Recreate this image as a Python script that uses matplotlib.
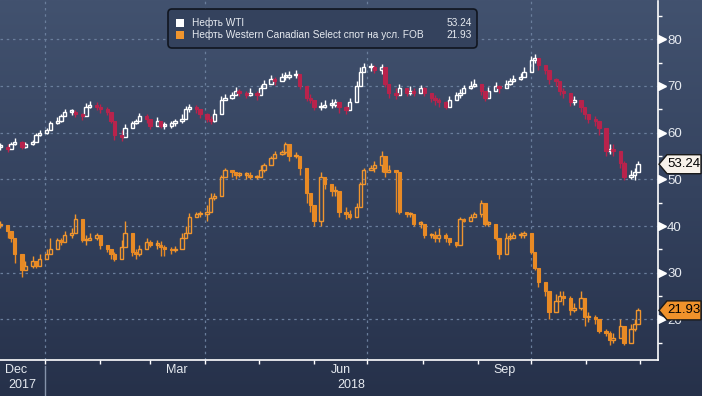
import numpy as np
import pandas as pd
import matplotlib
matplotlib.use('Agg')
import matplotlib.pyplot as plt
import matplotlib.dates as mdates
import matplotlib.transforms as mtransforms
from matplotlib.colors import LinearSegmentedColormap
from matplotlib.patches import FancyBboxPatch, Polygon, Rectangle
from matplotlib.ticker import FixedLocator, NullFormatter, FixedFormatter

plt.rcParams['font.family'] = ['Liberation Sans', 'DejaVu Sans']

# ---------------- data ----------------
start_date = '2017-12-07'
step = '2B'   # one candle every two business days

wti_close = [
    57.0, 56.5, 57.5, 58.0, 57.0, 57.5, 58.0, 59.5, 60.0, 60.5,
    62.0, 62.5, 63.5, 64.5, 64.5, 64.0, 63.5, 65.5, 66.0, 65.5,
    65.0, 64.5, 62.5, 59.5, 59.0, 61.0, 62.0, 62.5, 63.5, 63.0,
    61.5, 62.5, 61.5, 61.5, 62.0, 62.5, 63.0, 65.0, 65.5, 65.0,
    64.0, 63.0, 62.5, 64.0, 67.0, 67.5, 68.0, 69.0, 68.5, 68.0,
    68.5, 68.0, 69.5, 70.5, 71.5, 71.0, 72.0, 72.0, 72.3, 72.5,
    70.0, 67.5, 67.0, 65.5, 65.5, 66.0, 66.0, 66.5, 65.5, 64.8,
    66.5, 70.0, 73.0, 74.0, 74.0, 73.5, 74.0, 70.5, 68.5, 68.0,
    69.5, 68.5, 69.0, 68.5, 69.5, 68.5, 67.5, 67.0, 66.5, 65.5,
    67.0, 68.0, 68.5, 69.5, 70.0, 70.5, 69.0, 67.5, 69.0, 70.0,
    69.5, 70.5, 71.0, 71.5, 72.0, 73.0, 75.5, 76.0, 74.5, 73.5,
    71.5, 71.0, 69.0, 68.5, 66.5, 67.0, 65.5, 64.0, 63.0, 62.5,
    61.0, 56.0, 56.5, 56.0, 53.5, 50.5, 51.0, 51.5, 53.24,
]
wti_high = [
    57.8, 57.5, 58.0, 58.8, 58.2, 58.0, 58.5, 60.0, 60.5, 61.0,
    62.5, 63.3, 64.0, 65.0, 65.0, 64.8, 64.3, 66.3, 66.8, 66.5,
    66.2, 65.5, 64.3, 61.5, 60.5, 61.8, 62.5, 63.0, 64.3, 64.0,
    62.8, 63.3, 62.5, 62.3, 62.5, 63.0, 64.0, 65.8, 66.2, 66.0,
    65.0, 64.2, 63.5, 65.0, 67.8, 68.3, 68.8, 69.8, 69.3, 69.0,
    69.5, 69.0, 70.3, 71.3, 72.3, 72.0, 72.8, 73.0, 73.3, 73.5,
    72.5, 69.5, 68.3, 66.8, 66.5, 67.0, 67.3, 67.3, 66.5, 65.8,
    67.5, 71.0, 74.0, 75.0, 75.0, 74.5, 74.8, 72.5, 69.5, 69.5,
    70.5, 69.5, 70.0, 69.5, 70.3, 69.8, 68.5, 68.0, 67.5, 66.8,
    67.8, 68.8, 69.3, 70.3, 71.0, 71.5, 70.3, 69.0, 69.8, 70.8,
    70.3, 71.3, 71.8, 72.3, 72.8, 74.0, 76.5, 76.8, 75.5, 74.5,
    72.5, 71.8, 70.0, 69.5, 68.0, 67.8, 66.8, 65.0, 64.0, 63.5,
    62.0, 59.5, 57.5, 57.5, 56.0, 54.0, 52.0, 52.5, 54.0,
]
wti_low = [
    56.2, 55.8, 56.8, 57.3, 56.5, 56.8, 57.3, 58.5, 59.2, 59.8,
    60.8, 61.8, 62.3, 63.5, 63.8, 63.3, 62.8, 64.5, 65.2, 64.8,
    64.3, 63.8, 62.0, 58.5, 58.3, 59.5, 61.0, 61.8, 62.8, 62.0,
    60.8, 61.5, 61.0, 60.8, 61.0, 61.5, 62.0, 63.8, 64.5, 64.3,
    63.2, 62.3, 61.8, 62.3, 65.5, 67.0, 67.3, 68.0, 67.8, 67.5,
    67.8, 67.0, 68.5, 69.5, 70.5, 70.2, 71.3, 71.3, 71.5, 71.8,
    69.3, 66.8, 66.3, 64.8, 64.8, 65.3, 65.3, 65.5, 64.3, 64.0,
    65.5, 68.5, 71.5, 73.0, 73.2, 72.8, 72.5, 69.8, 67.5, 67.3,
    68.5, 67.8, 68.0, 67.8, 68.5, 67.8, 66.5, 66.0, 65.5, 65.0,
    66.0, 67.0, 67.5, 68.8, 69.3, 69.8, 68.0, 66.8, 68.0, 69.0,
    68.5, 69.8, 70.2, 70.8, 71.3, 72.0, 74.0, 75.0, 73.5, 72.5,
    70.5, 70.0, 68.0, 67.5, 65.8, 66.0, 64.5, 63.0, 62.0, 61.5,
    59.5, 55.0, 55.5, 55.0, 52.5, 49.8, 50.0, 49.8, 52.8,
]

wcs_close = [
    40.2, 39.0, 37.5, 34.0, 30.5, 31.5, 32.5, 31.5, 33.0, 34.0,
    35.0, 37.0, 36.5, 38.0, 38.5, 41.5, 37.0, 37.0, 37.5, 38.0,
    36.0, 35.0, 34.0, 33.0, 35.5, 38.5, 34.5, 34.0, 35.0, 36.5,
    36.0, 36.0, 35.5, 35.0, 34.8, 35.0, 37.5, 38.5, 42.0, 42.5,
    42.5, 43.0, 46.0, 46.5, 50.5, 52.0, 51.5, 51.0, 51.0, 51.0,
    50.5, 50.5, 52.0, 53.0, 54.5, 55.5, 55.8, 57.5, 55.0, 55.0,
    52.5, 47.0, 44.5, 41.0, 50.5, 49.0, 47.5, 47.5, 43.0, 42.5,
    42.0, 44.0, 49.0, 52.0, 52.5, 53.0, 55.0, 51.5, 52.0, 51.5,
    43.0, 42.5, 42.5, 40.5, 40.5, 38.0, 38.0, 37.5, 38.0, 37.5,
    36.5, 36.0, 41.5, 41.0, 42.0, 42.5, 45.0, 40.5, 40.5, 37.5,
    34.0, 37.5, 37.5, 38.0, 38.0, 38.5, 34.5, 31.0, 28.0, 26.0,
    21.5, 24.0, 25.0, 24.5, 22.0, 22.5, 24.5, 20.5, 20.5, 20.0,
    17.5, 17.0, 15.5, 16.0, 18.5, 15.0, 18.0, 19.0, 21.93,
]
wcs_high = [
    41.0, 40.0, 38.0, 36.5, 31.5, 32.5, 33.5, 32.5, 34.0, 35.0,
    37.5, 37.5, 37.5, 39.0, 39.5, 42.5, 40.0, 38.0, 38.5, 38.5,
    37.0, 36.0, 35.0, 34.5, 37.0, 41.0, 36.0, 35.0, 36.0, 37.5,
    37.0, 37.0, 36.8, 36.0, 35.5, 35.8, 38.5, 40.0, 42.8, 43.0,
    43.2, 44.5, 47.0, 47.0, 51.0, 52.5, 52.0, 51.5, 51.5, 51.5,
    51.5, 51.0, 53.0, 53.5, 55.0, 56.0, 56.3, 58.0, 55.5, 55.8,
    53.5, 49.0, 46.0, 44.0, 51.5, 50.5, 48.0, 48.5, 44.5, 44.0,
    43.5, 45.0, 49.5, 52.5, 53.0, 54.0, 56.0, 54.0, 53.0, 52.0,
    45.0, 43.0, 43.0, 41.5, 41.0, 38.5, 38.5, 39.0, 39.5, 38.5,
    37.5, 36.5, 42.0, 41.8, 42.5, 43.0, 45.5, 44.0, 41.0, 38.5,
    35.0, 38.5, 38.5, 38.8, 38.8, 39.0, 38.5, 34.5, 31.0, 28.0,
    26.0, 25.5, 26.0, 26.0, 25.0, 23.5, 26.0, 24.0, 21.5, 21.0,
    19.5, 18.0, 17.5, 17.0, 20.0, 16.0, 19.0, 20.0, 22.5,
]
wcs_low = [
    39.5, 37.5, 36.5, 32.0, 29.0, 30.5, 31.0, 31.0, 32.0, 33.0,
    34.5, 36.0, 36.0, 37.0, 37.5, 39.5, 36.5, 36.0, 37.0, 37.0,
    35.0, 34.5, 33.0, 32.5, 34.5, 36.0, 33.5, 33.0, 33.5, 35.5,
    35.5, 35.0, 33.5, 33.5, 34.0, 34.5, 36.0, 37.5, 41.5, 42.0,
    42.0, 41.0, 43.5, 45.5, 47.0, 51.0, 50.5, 50.0, 50.5, 50.0,
    50.0, 50.0, 50.5, 51.5, 53.5, 55.0, 55.3, 55.5, 54.0, 54.5,
    51.0, 45.0, 43.0, 40.0, 40.0, 48.0, 46.5, 46.5, 42.0, 41.5,
    41.5, 43.5, 44.5, 50.5, 52.0, 51.5, 51.5, 50.5, 51.5, 43.0,
    42.5, 42.0, 42.0, 40.0, 39.5, 37.5, 37.5, 36.5, 36.5, 36.5,
    36.0, 35.5, 41.0, 40.8, 41.5, 42.0, 42.0, 40.0, 40.0, 37.0,
    33.0, 36.5, 37.0, 37.5, 37.5, 37.5, 34.0, 30.5, 27.0, 25.0,
    20.0, 21.5, 24.0, 23.0, 21.0, 21.5, 22.0, 18.5, 19.5, 19.0,
    17.0, 16.5, 14.5, 15.0, 16.0, 14.5, 17.0, 17.5, 19.5,
]

series_names = ['Нефть WTI', 'Нефть Western Canadian Select спот на усл. FOB']
month_labels = ['Dec', 'Mar', 'Jun', 'Sep']
month_label_dates = ['2017-12-16', '2018-03-16', '2018-06-16', '2018-09-16']
year_labels = ['2017', '2018']
year_starts = ['2017-01-01', '2018-01-01']
grid_dates = ['2018-01-01', '2018-04-01', '2018-07-01', '2018-10-01']
y_major = [20, 30, 40, 50, 60, 70, 80]
y_minor = [15, 25, 35, 45, 55, 65, 75, 85]

# ---------------- styles ----------------
W, H, DPI = 7.02, 3.96, 100
WTI_UP = '#ffffff'
WTI_DOWN = '#b8234c'
WCS_UP = '#f0952e'
WCS_DOWN = '#e88a25'
GRID = '#6a7e9c'
TXT = '#e6eaf0'

fig = plt.figure(figsize=(W, H), dpi=DPI)

# background gradient
bg = fig.add_axes([0, 0, 1, 1], zorder=-10)
grad = np.linspace(0, 1, 256).reshape(-1, 1)
cmap = LinearSegmentedColormap.from_list('bg', ['#26314a', '#34425e', '#42526f'])
bg.imshow(grad, aspect='auto', cmap=cmap, origin='lower', extent=[0, 1, 0, 1])
bg.axis('off')

ax = fig.add_axes([0, 36 / 396, 658 / 702, 359 / 396])
ax.set_facecolor('none')

dates = pd.bdate_range(start_date, periods=len(wti_close), freq=step)
x = mdates.date2num(dates)

jan1 = mdates.date2num(pd.Timestamp('2018-01-01'))
px_per_day = 1.781
ax.set_xlim(jan1 - 45 / px_per_day, jan1 + 613 / px_per_day)
ax.set_ylim(11.3, 88.2)


def candles(xv, closes, highs, lows, up_color, down_color, width=1.9):
    c = np.asarray(closes, float)
    hi = np.asarray(highs, float)
    lo = np.asarray(lows, float)
    o = np.r_[c[0], c[:-1]]
    up = c >= o
    bottoms = np.minimum(o, c)
    tops = np.maximum(o, c)
    heights = np.maximum(tops - bottoms, 0.3)
    cols = np.where(up, up_color, down_color)
    ax.vlines(xv, np.minimum(lo, bottoms), bottoms, colors=cols, lw=1, zorder=3)
    ax.vlines(xv, tops, np.maximum(hi, tops), colors=cols, lw=1, zorder=3)
    ax.bar(xv[up], heights[up], width, bottoms[up], facecolor='none',
           edgecolor=up_color, linewidth=1.0, zorder=3)
    ax.bar(xv[~up], heights[~up], width, bottoms[~up], facecolor=down_color,
           edgecolor=down_color, linewidth=0.8, zorder=3)


candles(x, wcs_close, wcs_high, wcs_low, WCS_UP, WCS_DOWN)
candles(x, wti_close, wti_high, wti_low, WTI_UP, WTI_DOWN)

# grid
for yv in y_major:
    ax.axhline(yv, color=GRID, lw=0.9, ls=(0, (2, 3)), zorder=1)
for d in grid_dates:
    ax.axvline(mdates.date2num(pd.Timestamp(d)), color=GRID, lw=0.9,
               ls=(0, (2, 3)), zorder=1)

# spines
for s in ['top', 'left']:
    ax.spines[s].set_visible(False)
for s in ['bottom', 'right']:
    ax.spines[s].set_color('white')
    ax.spines[s].set_linewidth(1.2)

# y axis on right
ax.yaxis.tick_right()
ax.yaxis.set_major_locator(FixedLocator(y_major))
ax.yaxis.set_minor_locator(FixedLocator(y_minor))
ax.yaxis.set_minor_formatter(NullFormatter())
ax.tick_params(axis='y', which='major', length=0, pad=6.5, labelsize=9.5,
               labelcolor=TXT)
ax.tick_params(axis='y', which='minor', length=3, width=1, color='white',
               direction='out')
tri_trans = mtransforms.blended_transform_factory(ax.transAxes, ax.transData) + \
    mtransforms.ScaledTranslation(4 / DPI, 0, fig.dpi_scale_trans)
ax.plot(np.ones(len(y_major)), y_major, ls='none', marker='>', ms=5.5,
        color='white', transform=tri_trans, clip_on=False, zorder=4)

# x axis
ax.xaxis.set_major_locator(mdates.MonthLocator())
ax.xaxis.set_major_formatter(NullFormatter())
ax.xaxis.set_minor_locator(FixedLocator(
    [mdates.date2num(pd.Timestamp(d)) for d in month_label_dates]))
ax.xaxis.set_minor_formatter(FixedFormatter(month_labels))
ax.tick_params(axis='x', which='major', length=3, width=1, color='white',
               direction='out')
ax.tick_params(axis='x', which='minor', length=0, pad=3, labelsize=9,
               labelcolor=TXT)

# year labels, centred on the visible span of each year
xl = ax.get_xlim()
xtrans = mtransforms.blended_transform_factory(ax.transData, ax.transAxes)
for lab, ys in zip(year_labels, year_starts):
    y0 = mdates.date2num(pd.Timestamp(ys))
    y1 = mdates.date2num(pd.Timestamp(ys) + pd.DateOffset(years=1))
    cx = (max(y0, xl[0]) + min(y1, xl[1])) / 2
    ax.annotate(lab, xy=(cx, 0), xycoords=xtrans, xytext=(0, -13.5),
                textcoords='offset points', ha='center', va='top',
                fontsize=9, color=TXT, annotation_clip=False)
ax.plot([jan1, jan1], [-6 / 359, -40 / 359], color='#8593aa', lw=1,
        transform=xtrans, clip_on=False)

# price tags
ident = mtransforms.IdentityTransform()
fig.canvas.draw()


def tag(value, face):
    xd = ax.transAxes.transform((1, 0))[0]
    yd = ax.transData.transform((0, value))[1]
    pts = [(xd + 1, yd), (xd + 9, yd + 9.5), (xd + 43, yd + 9.5),
           (xd + 43, yd - 9.5), (xd + 9, yd - 9.5)]
    fig.add_artist(Polygon(pts, closed=True, facecolor=face,
                           edgecolor='#1a1a1a', lw=1, transform=ident,
                           zorder=10))
    fig.text(xd + 26, yd, f'{value:.2f}', transform=ident, ha='center',
             va='center', fontsize=9.5, color='black', zorder=11)


tag(wti_close[-1], '#f8f2ea')
tag(wcs_close[-1], '#f0922b')

# legend
fig.add_artist(FancyBboxPatch((168, 348), 309, 39,
                              boxstyle='round,pad=0,rounding_size=4',
                              transform=ident, facecolor='#34425d',
                              edgecolor='#10151f', lw=1.2, zorder=8))
rows_y = [396 - 23, 396 - 35]
colors = [WTI_UP, WCS_UP]
values = [wti_close[-1], wcs_close[-1]]
for name, col, val, yy in zip(series_names, colors, values, rows_y):
    fig.add_artist(Rectangle((176, yy - 4), 8, 8, transform=ident,
                             facecolor=col, edgecolor='none', zorder=9))
    fig.text(192, yy, name, transform=ident, ha='left', va='center',
             fontsize=7.3, color=TXT, zorder=9)
    fig.text(472, yy, f'{val:.2f}', transform=ident, ha='right',
             va='center', fontsize=7.3, color=TXT, zorder=9)

fig.savefig('out.png', dpi=DPI)
